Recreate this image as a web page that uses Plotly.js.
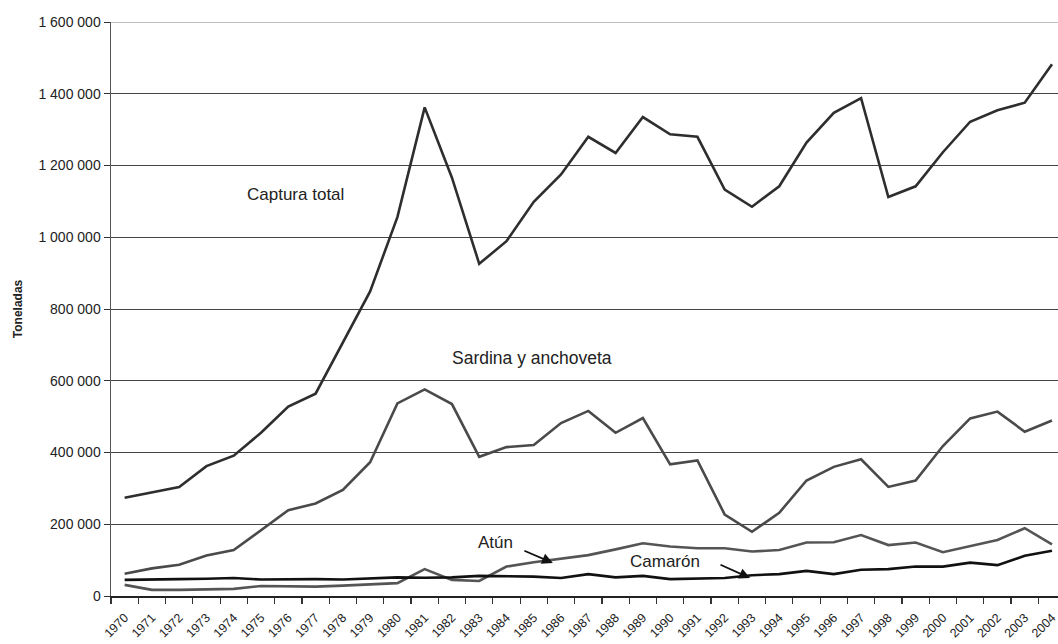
<!DOCTYPE html>
<html>
<head>
<meta charset="utf-8">
<script src="https://cdn.plot.ly/plotly-3.0.1.min.js"></script>
<style>html,body{margin:0;padding:0;background:#fff}#chart{width:1058px;height:644px}</style>
</head>
<body>
<div id="chart"></div>
<script>
const years = [1970,1971,1972,1973,1974,1975,1976,1977,1978,1979,1980,1981,1982,1983,1984,1985,1986,1987,1988,1989,1990,1991,1992,1993,1994,1995,1996,1997,1998,1999,2000,2001,2002,2003,2004];
const yearLabels = years.map(String);

const capturaTotal = [274000,288000,304000,362000,391000,455000,528000,564000,705000,849000,1056000,1362000,1166000,926000,989000,1099000,1175000,1280000,1235000,1335000,1287000,1280000,1133000,1085000,1142000,1264000,1347000,1388000,1112000,1142000,1237000,1322000,1354000,1375000,1482000];
const sardinaAnchoveta = [62000,77000,87000,113000,128000,183000,239000,258000,296000,373000,537000,576000,535000,388000,415000,421000,482000,516000,455000,496000,367000,378000,227000,179000,232000,322000,360000,381000,304000,322000,418000,495000,514000,458000,489000];
const atun = [31000,17000,17000,19000,20000,28000,26000,26000,29000,33000,36000,75000,45000,42000,82000,94000,103000,114000,130000,147000,138000,133000,133000,124000,128000,149000,150000,170000,142000,149000,122000,138000,156000,189000,144000];
const camaron = [45000,45000,47000,48000,50000,46000,47000,47000,46000,48000,52000,51000,52000,56000,56000,54000,50000,61000,52000,56000,47000,48000,50000,58000,61000,70000,61000,73000,75000,82000,82000,93000,86000,112000,126000];

const seriesNames = ["Captura total","Sardina y anchoveta","Atún","Camarón"];
const seriesColors = ["#2e2e2e","#4a4a4a","#555555","#111111"];
const seriesData = [capturaTotal, sardinaAnchoveta, atun, camaron];

const traces = seriesData.map((vals, i) => ({
  type: "scatter",
  mode: "lines",
  name: seriesNames[i],
  x: years,
  y: vals,
  line: {color: seriesColors[i], width: 2.6},
  hoverinfo: "x+y+name"
}));

const font = "Liberation Sans, Arial, sans-serif";

const layout = {
  width: 1058,
  height: 644,
  margin: {l: 111, r: 0, t: 22, b: 48},
  paper_bgcolor: "#ffffff",
  plot_bgcolor: "#ffffff",
  showlegend: false,
  separators: ". ",
  font: {family: font, color: "#222"},
  xaxis: {
    range: [1969.5, 2004.22],
    tickmode: "array",
    tickvals: years,
    ticktext: yearLabels,
    tickangle: -45,
    ticks: "outside",
    ticklen: 8,
    tickcolor: "rgba(0,0,0,0)",
    tickfont: {family: font, size: 12.5, color: "#222"},
    ticklabeloverflow: "allow",
    showgrid: false,
    zeroline: false,
    showline: true,
    linecolor: "#222",
    linewidth: 1.5,
    minor: {tick0: 1969.5, dtick: 1, ticks: "outside", ticklen: 6, tickcolor: "#333", tickwidth: 1.2, showgrid: false},
    fixedrange: true
  },
  yaxis: {
    range: [0, 1600000],
    tickmode: "linear",
    tick0: 0,
    dtick: 200000,
    tickformat: ",d",
    ticks: "outside",
    ticklen: 6,
    tickcolor: "#333",
    tickfont: {family: font, size: 14, color: "#222"},
    showgrid: true,
    gridcolor: "#444",
    gridwidth: 1,
    zeroline: false,
    showline: true,
    linecolor: "#555",
    linewidth: 1.5,
    title: {text: "<b>Toneladas</b>", font: {family: font, size: 12, color: "#222"}, standoff: 13},
    fixedrange: true
  },
  shapes: [
    {type: "line", xref: "paper", yref: "y", x0: 0, x1: 1, y0: 1600000, y1: 1600000, line: {color: "#bdbdbd", width: 2}, layer: "above"}
  ],
  annotations: [
    {x: 1976.25, y: 1119000, xref: "x", yref: "y", text: "Captura total", showarrow: false, font: {family: font, size: 17, color: "#222"}},
    {x: 1984.94, y: 664000, xref: "x", yref: "y", text: "Sardina y anchoveta", showarrow: false, font: {family: font, size: 17.5, color: "#222"}},
    {x: 1983.58, y: 148000, xref: "x", yref: "y", text: "Atún", showarrow: false, font: {family: font, size: 17, color: "#222"}},
    {x: 1985.7, y: 92000, xref: "x", yref: "y", ax: 1984.6, ay: 128000, axref: "x", ayref: "y", text: "", showarrow: true, arrowhead: 2, arrowsize: 1.2, arrowwidth: 1.8, arrowcolor: "#111"},
    {x: 1989.81, y: 96000, xref: "x", yref: "y", text: "Camarón", showarrow: false, font: {family: font, size: 17, color: "#222"}},
    {x: 1992.93, y: 50000, xref: "x", yref: "y", ax: 1991.79, ay: 89000, axref: "x", ayref: "y", text: "", showarrow: true, arrowhead: 2, arrowsize: 1.2, arrowwidth: 1.8, arrowcolor: "#111"}
  ]
};

Plotly.newPlot("chart", traces, layout, {displayModeBar: false, staticPlot: true});
</script>
</body>
</html>
